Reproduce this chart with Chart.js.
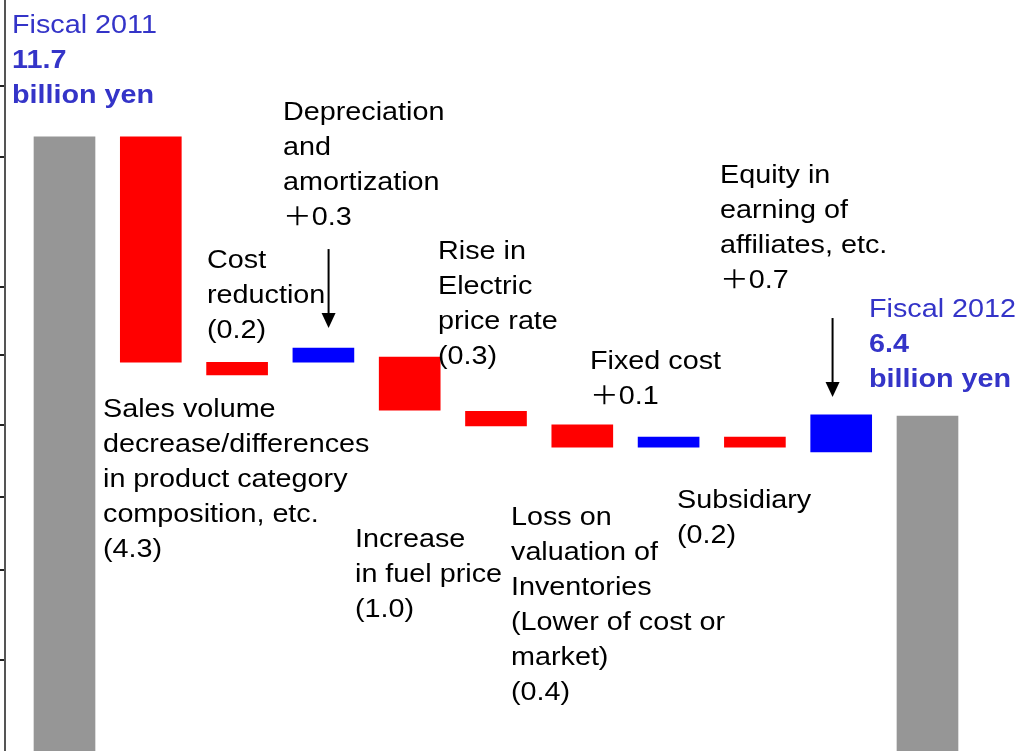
<!DOCTYPE html>
<html>
<head>
<meta charset="utf-8">
<script src="https://cdn.jsdelivr.net/npm/chart.js@4.4.1/dist/chart.umd.min.js"></script>
<style>
    html, body { margin: 0; padding: 0; background: #fff; overflow: hidden; }
    #grafico { display: block; }
</style>
</head>
<body>
<canvas id="grafico" width="1021" height="753"></canvas>
<script>
// ============================================================
// DADOS DO GRÁFICO (billion yen)
// ============================================================
const categories = [
    "Fiscal 2011", "Sales volume", "Cost reduction", "Depreciation and amortization",
    "Increase in fuel price", "Rise in Electric price rate", "Loss on valuation of Inventories",
    "Fixed cost", "Subsidiary", "Equity in earning of affiliates, etc.", "Fiscal 2012"
];
const barLow  = [0,    7.42, 7.18, 7.42, 6.51, 6.21, 5.81, 5.81, 5.81, 5.72, 0];
const barHigh = [11.7, 11.7, 7.42, 7.69, 7.52, 6.49, 6.23, 6.00, 6.00, 6.42, 6.4];
const barKind = ["total", "down", "down", "up", "down", "down", "down", "up", "down", "up", "total"];
const axisTicks = [12.67, 11.32, 8.85, 7.56, 6.23, 4.86, 3.48, 1.77];

// setas: posição x (índice da barra), início e ponta (valor)
const arrowX    = [3.06, 8.9];
const arrowFrom = [9.57, 8.26];
const arrowTo   = [8.07, 6.76];

// ============================================================
// ESTILO
// ============================================================
const cores = { total: "#969696", down: "#ff0000", up: "#0000ff" };
const azul = "#3434c8";
const fonte = '"Liberation Sans", Arial, "Noto Sans CJK JP", sans-serif';
const esticar = 1.15;   // texto levemente esticado na horizontal
const linha = 35;

// textos (x à esquerda, y = linha de base da primeira linha)
const rotulos = [
    { x: 12,  y: 33,  cor: azul, linhas: [["Fiscal 2011", false], ["11.7", true], ["billion yen", true]] },
    { x: 869, y: 317, cor: azul, linhas: [["Fiscal 2012", false], ["6.4", true], ["billion yen", true]] },
    { x: 283, y: 120, linhas: [["Depreciation"], ["and"], ["amortization"], ["＋0.3"]] },
    { x: 207, y: 268, linhas: [["Cost"], ["reduction"], ["(0.2)"]] },
    { x: 438, y: 259, linhas: [["Rise in"], ["Electric"], ["price rate"], ["(0.3)"]] },
    { x: 590, y: 369, linhas: [["Fixed cost"], ["＋0.1"]] },
    { x: 720, y: 183, linhas: [["Equity in"], ["earning of"], ["affiliates, etc."], ["＋0.7"]] },
    { x: 103, y: 417, linhas: [["Sales volume"], ["decrease/differences"], ["in product category"], ["composition, etc."], ["(4.3)"]] },
    { x: 355, y: 547, linhas: [["Increase"], ["in fuel price"], ["(1.0)"]] },
    { x: 511, y: 525, linhas: [["Loss on"], ["valuation of"], ["Inventories"], ["(Lower of cost or"], ["market)"], ["(0.4)"]] },
    { x: 677, y: 508, linhas: [["Subsidiary"], ["(0.2)"]] }
];

// ============================================================
// PLUGIN: SETAS + TEXTOS
// ============================================================
const anotacoes = {
    id: "anotacoes",
    afterDatasetsDraw(chart) {
        const { ctx, scales: { x, y } } = chart;
        ctx.save();
        ctx.strokeStyle = "#000";
        ctx.fillStyle = "#000";
        ctx.lineWidth = 2;
        arrowX.forEach((ax, i) => {
            const px = x.getPixelForValue(ax);
            const y0 = y.getPixelForValue(arrowFrom[i]);
            const y1 = y.getPixelForValue(arrowTo[i]);
            ctx.beginPath();
            ctx.moveTo(px, y0);
            ctx.lineTo(px, y1 - 12);
            ctx.stroke();
            ctx.beginPath();
            ctx.moveTo(px - 7, y1 - 15);
            ctx.lineTo(px + 7, y1 - 15);
            ctx.lineTo(px, y1);
            ctx.closePath();
            ctx.fill();
        });
        ctx.restore();
    },
    afterDraw(chart) {
        const ctx = chart.ctx;
        ctx.save();
        ctx.textBaseline = "alphabetic";
        ctx.textAlign = "left";
        rotulos.forEach(r => {
            r.linhas.forEach(([txt, negrito], k) => {
                ctx.save();
                ctx.fillStyle = r.cor || "#000";
                ctx.font = (negrito ? "bold " : "") + "25px " + fonte;
                ctx.translate(r.x, r.y + k * linha);
                ctx.scale(esticar, 1);
                ctx.fillText(txt, 0, 0);
                ctx.restore();
            });
        });
        ctx.restore();
    }
};

// ============================================================
// MONTAGEM DO GRÁFICO
// ============================================================
new Chart(document.getElementById("grafico"), {
    type: "bar",
    data: {
        labels: categories,
        datasets: [{
            label: "Ordinary income",
            data: barLow.map((lo, i) => ({ x: i, y: [lo, barHigh[i]] })),
            backgroundColor: barKind.map(k => cores[k]),
            borderWidth: 0,
            borderSkipped: false,
            barThickness: 61
        }]
    },
    options: {
        responsive: false,
        animation: false,
        devicePixelRatio: 1,
        layout: { padding: 0 },
        plugins: { legend: { display: false }, tooltip: { enabled: false } },
        scales: {
            x: { type: "linear", min: -0.6895, max: 11.0835, offset: false, display: false },
            y: {
                min: 0,
                max: 14.3,
                afterBuildTicks: s => { s.ticks = axisTicks.map(v => ({ value: v })); },
                ticks: { display: false },
                grid: { drawOnChartArea: false, drawTicks: true, tickLength: 5, color: "#222", lineWidth: 2 },
                border: { display: true, color: "#555", width: 2 }
            }
        }
    },
    plugins: [anotacoes]
});
</script>
</body>
</html>
